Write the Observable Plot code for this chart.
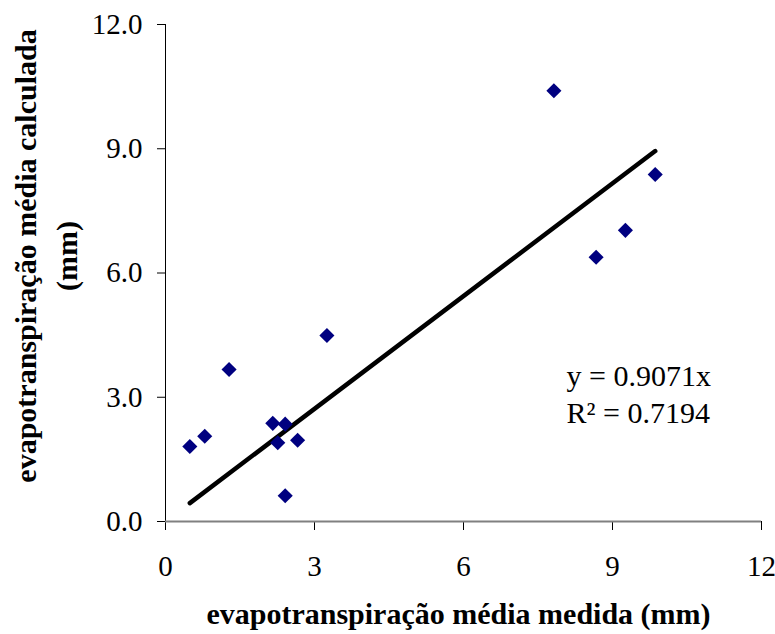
<!DOCTYPE html>
<html>
<head>
<meta charset="utf-8">
<script src="https://cdn.jsdelivr.net/npm/d3@7"></script>
<script src="https://cdn.jsdelivr.net/npm/@observablehq/plot@0.6"></script>
<style>
  html, body { margin: 0; padding: 0; background: #fff; }
</style>
</head>
<body>
<div id="chart"></div>
<script>
// Data
const measured   = [0.49, 0.79, 1.28, 2.16, 2.41, 2.26, 2.66, 2.41, 3.25, 7.82, 9.86, 9.26, 8.67];
const calculated = [1.81, 2.06, 3.67, 2.37, 2.35, 1.90, 1.96, 0.62, 4.49, 10.40, 8.38, 7.03, 6.38];
const xTicks = [0, 3, 6, 9, 12];
const yTicks = [0, 3, 6, 9, 12];
const slope = 0.9071;
const r2 = 0.7194;
const xTitle = "evapotranspiração média medida (mm)";
const yTitle = "evapotranspiração média calculada\n(mm)";

const points = measured.map((x, i) => ({x, y: calculated[i]}));
const xMin = d3.min(measured), xMax = d3.max(measured);
const trend = [xMin, xMax].map(x => ({x, y: slope * x}));

const serif = "'Liberation Serif', 'Times New Roman', serif";

const chart = Plot.plot({
  width: 775,
  height: 634,
  marginLeft: 165,
  marginRight: 14,
  marginTop: 24,
  marginBottom: 113,
  style: {fontFamily: serif, fontSize: "29px", color: "#000", background: "#fff", overflow: "visible"},
  x: {domain: [0, 12]},
  y: {domain: [0, 12]},
  marks: [
    Plot.ruleX([0], {stroke: "#000", strokeWidth: 1}),
    Plot.axisY({ticks: yTicks, tickFormat: d => d.toFixed(1), tickSize: 8, tickPadding: 15, label: null, fontSize: 29}),
    Plot.axisX({ticks: xTicks, tickFormat: d => String(d), tickSize: 9, tickPadding: 25, label: null, fontSize: 29}),
    Plot.ruleY([0], {stroke: "#808080", strokeWidth: 2}),
    Plot.line(trend, {x: "x", y: "y", stroke: "#000", strokeWidth: 4.5, strokeLinecap: "round"}),
    Plot.dot(points, {x: "x", y: "y", symbol: "diamond2", r: 6.8, fill: "#000080", stroke: "none"}),
    Plot.text([`y = ${slope}x`], {frameAnchor: "top-left", dx: 401, dy: 361, text: d => d, textAnchor: "start", lineAnchor: "bottom", fontSize: 30, fill: "#000"}),
    Plot.text([`R² = ${r2}`], {frameAnchor: "top-left", dx: 401, dy: 398, text: d => d, textAnchor: "start", lineAnchor: "bottom", fontSize: 30, fill: "#000"}),
    Plot.text([xTitle], {frameAnchor: "bottom", dx: -5, dy: 102, text: d => d, textAnchor: "middle", lineAnchor: "bottom", fontSize: 30, fontWeight: "bold", fill: "#000"}),
    Plot.text([yTitle], {frameAnchor: "left", dx: -122, dy: -17, text: d => d, rotate: -90, textAnchor: "middle", lineAnchor: "middle", fontSize: 30, fontWeight: "bold", fill: "#000", lineHeight: 1.37})
  ]
});
document.getElementById("chart").appendChild(chart);
</script>
</body>
</html>
